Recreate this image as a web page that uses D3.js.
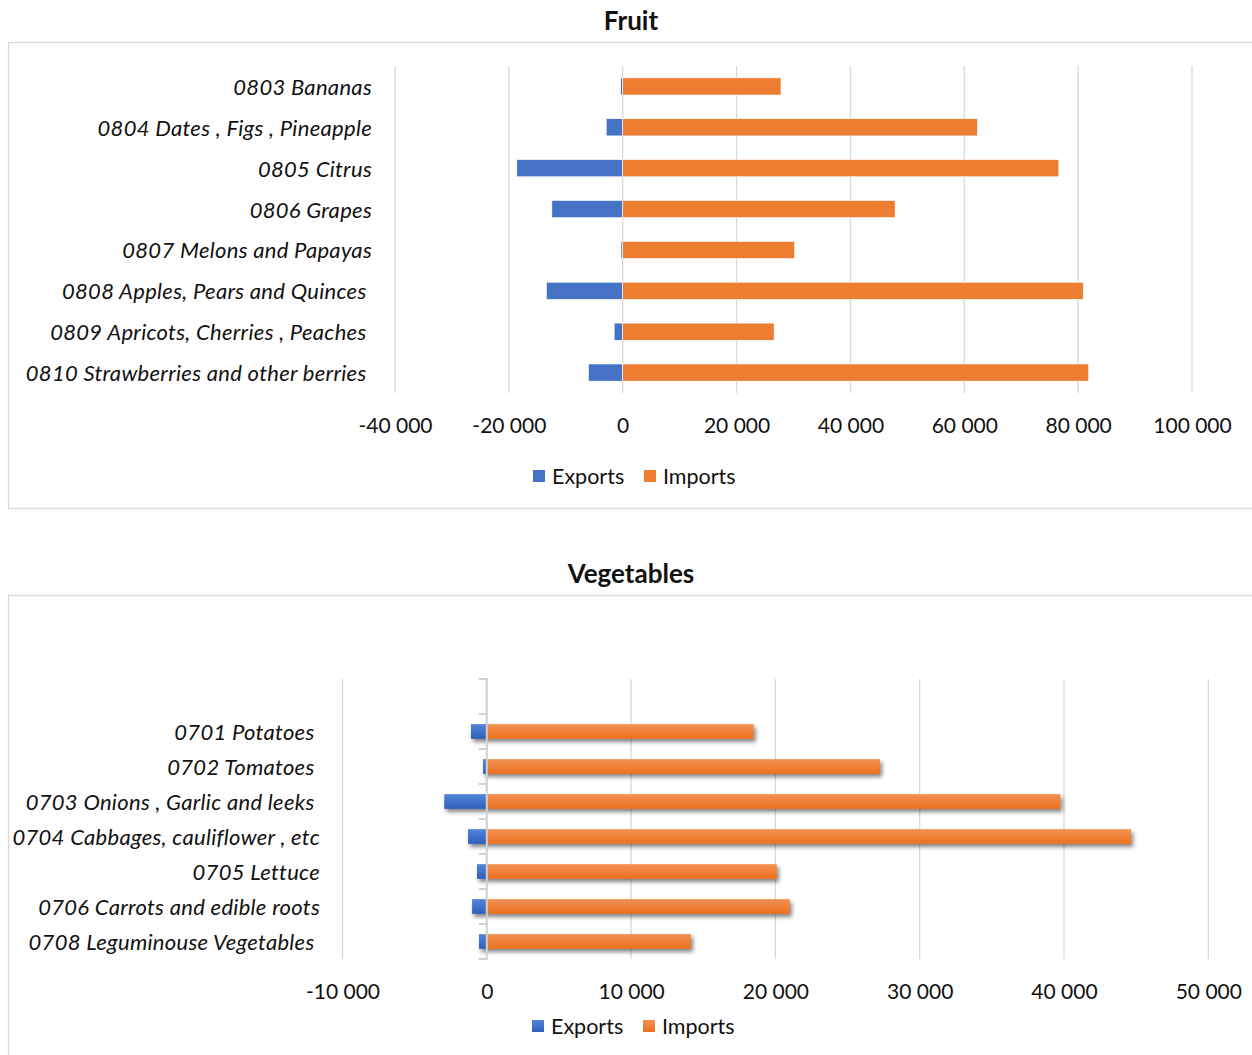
<!DOCTYPE html>
<html>
<head>
<meta charset="utf-8">
<script src="https://cdn.jsdelivr.net/npm/d3@7"></script>
<style>
  html, body { margin: 0; padding: 0; background: #fff; }
  svg { display: block; font-family: Lato, "Open Sans", sans-serif; }
  text { white-space: pre; }
</style>
</head>
<body>
<svg id="chart" width="1252" height="1055"></svg>
<script>
// Fruit trade, tonnes
const fruitCategories = [
  "0803 Bananas",
  "0804 Dates , Figs , Pineapple",
  "0805 Citrus",
  "0806 Grapes",
  "0807 Melons and Papayas",
  "0808 Apples, Pears and Quinces ",
  "0809 Apricots, Cherries , Peaches ",
  "0810 Strawberries and other berries "
];
const fruitExports = [-350, -2900, -18600, -12450, -300, -13400, -1500, -6000];
const fruitImports = [27800, 62300, 76600, 47850, 30200, 80900, 26600, 81850];
const fruitTicks = [-40000, -20000, 0, 20000, 40000, 60000, 80000, 100000];

// Vegetable trade, tonnes (top slot of the category axis is left empty)
const vegCategories = [
  "",
  "0701 Potatoes ",
  "0702 Tomatoes ",
  "0703 Onions , Garlic and leeks ",
  "0704 Cabbages, cauliflower , etc",
  "0705 Lettuce",
  "0706 Carrots and edible roots",
  "0708 Leguminouse Vegetables "
];
const vegExports = [null, -1100, -260, -2950, -1300, -680, -1020, -540];
const vegImports = [null, 18500, 27250, 39750, 44650, 20100, 21000, 14150];
const vegTicks = [-10000, 0, 10000, 20000, 30000, 40000, 50000];

const seriesNames = ["Exports", "Imports"];
const BLUE = "#4472C4", ORANGE = "#ED7D31";

const svg = d3.select("#chart");
const fmt = v => d3.format(",")(v).replace(/,/g, " ").replace("−", "-");

// gradients and shadow for the vegetable chart
const defs = svg.append("defs");
function grad(id, top, bottom) {
  const g = defs.append("linearGradient").attr("id", id)
    .attr("x1", 0).attr("y1", 0).attr("x2", 0).attr("y2", 1);
  g.append("stop").attr("offset", "0%").attr("stop-color", top);
  g.append("stop").attr("offset", "100%").attr("stop-color", bottom);
}
grad("gBlue", "#5585D6", "#2F5FBD");
grad("gOrange", "#F39255", "#EC6F1C");
const f = defs.append("filter").attr("id", "shadow")
  .attr("x", "-5%").attr("y", "-50%").attr("width", "115%").attr("height", "220%");
f.append("feGaussianBlur").attr("in", "SourceAlpha").attr("stdDeviation", 2).attr("result", "b");
f.append("feOffset").attr("in", "b").attr("dx", 2).attr("dy", 3).attr("result", "o");
f.append("feComponentTransfer").attr("in", "o").attr("result", "s")
  .append("feFuncA").attr("type", "linear").attr("slope", 0.5);
const fm = f.append("feMerge");
fm.append("feMergeNode").attr("in", "s");
fm.append("feMergeNode").attr("in", "SourceGraphic");

function drawChart(cfg) {
  const g = svg.append("g");

  // outer frame
  g.append("rect")
    .attr("x", cfg.frame[0] + 0.5).attr("y", cfg.frame[1] + 0.5)
    .attr("width", cfg.frame[2]).attr("height", cfg.frame[3])
    .attr("fill", "none").attr("stroke", "#d9d9d9").attr("stroke-width", 1.3);

  g.append("text")
    .attr("x", 631).attr("y", cfg.titleY)
    .attr("text-anchor", "middle").attr("dominant-baseline", "central")
    .attr("font-size", 26).attr("font-weight", 700).attr("fill", "#111")
    .text(cfg.title);

  const x = d3.scaleLinear().domain(cfg.domain).range(cfg.xRange);
  const y = d3.scaleBand().domain(cfg.categories).range(cfg.yRange)
    .paddingInner(0.58).paddingOuter(0.29);

  // vertical gridlines
  g.append("g").selectAll("line").data(cfg.ticks.filter(t => !(cfg.axisLine && t === 0)))
    .join("line")
    .attr("x1", d => x(d)).attr("x2", d => x(d))
    .attr("y1", cfg.yRange[0]).attr("y2", cfg.yRange[1])
    .attr("stroke", "#d9d9d9").attr("stroke-width", 1.3);

  // tick labels
  const xAxis = d3.axisBottom(x).tickValues(cfg.ticks).tickFormat(fmt).tickSize(0).tickPadding(0);
  const ax = g.append("g").attr("transform", `translate(0,${cfg.tickLabelY})`).call(xAxis);
  ax.select(".domain").remove();
  ax.selectAll("text").attr("font-size", 21).attr("fill", "#111")
    .attr("font-family", "Lato, sans-serif").attr("dy", "0.35em").attr("y", 0);

  const rows = cfg.categories.map((c, i) => ({ c, e: cfg.exports[i], m: cfg.imports[i] }))
    .filter(d => d.e !== null);

  const bars = g.append("g");
  if (cfg.shadow) bars.attr("filter", "url(#shadow)");
  bars.selectAll("rect.exp").data(rows).join("rect").attr("class", "exp")
    .attr("x", d => x(Math.min(0, d.e))).attr("width", d => Math.abs(x(d.e) - x(0)))
    .attr("y", d => y(d.c)).attr("height", y.bandwidth())
    .attr("fill", cfg.shadow ? "url(#gBlue)" : BLUE)
    .attr("stroke", cfg.shadow ? "none" : "#fff").attr("stroke-width", 0.6);
  bars.selectAll("rect.imp").data(rows).join("rect").attr("class", "imp")
    .attr("x", x(0)).attr("width", d => x(d.m) - x(0))
    .attr("y", d => y(d.c)).attr("height", y.bandwidth())
    .attr("fill", cfg.shadow ? "url(#gOrange)" : ORANGE)
    .attr("stroke", cfg.shadow ? "none" : "#fff").attr("stroke-width", 0.6);

  // category axis line with outward ticks
  if (cfg.axisLine) {
    const yAxis = d3.axisLeft(y).tickSize(8).tickFormat("");
    const ya = g.append("g").attr("transform", `translate(${x(0)},0)`).call(yAxis);
    ya.select(".domain").attr("stroke", "#d0d0d0").attr("stroke-width", 2)
      .attr("d", `M-8,${cfg.yRange[0]}H0V${cfg.yRange[1]}H-8`);
    ya.selectAll(".tick").remove();
    const edges = d3.range(cfg.categories.length + 1).map(i => cfg.yRange[0] + i * y.step());
    ya.selectAll("line.edge").data(edges).join("line").attr("class", "edge")
      .attr("x1", -8).attr("x2", 0).attr("y1", d => d).attr("y2", d => d)
      .attr("stroke", "#d0d0d0").attr("stroke-width", 2);
  }

  // category labels
  g.append("g").selectAll("text").data(cfg.categories.filter(c => c !== "")).join("text")
    .attr("x", cfg.labelX).attr("y", d => y(d) + y.bandwidth() / 2)
    .attr("text-anchor", "end").attr("dominant-baseline", "central")
    .attr("font-size", 22).attr("letter-spacing", 0.3)
    .attr("font-style", "italic").attr("fill", "#111")
    .text(d => d);

  // legend
  const lg = g.append("g").attr("transform", `translate(${cfg.legend[0]},${cfg.legend[1]})`);
  const items = [
    { name: seriesNames[0], color: cfg.shadow ? "url(#gBlue)" : BLUE, dx: 0 },
    { name: seriesNames[1], color: cfg.shadow ? "url(#gOrange)" : ORANGE, dx: 111 }
  ];
  items.forEach(it => {
    lg.append("rect").attr("x", it.dx).attr("y", -6).attr("width", 12).attr("height", 12)
      .attr("fill", it.color);
    lg.append("text").attr("x", it.dx + 19).attr("y", 0)
      .attr("dominant-baseline", "central").attr("font-size", 21.5).attr("fill", "#111")
      .text(it.name);
  });
}

drawChart({
  title: "Fruit", titleY: 20,
  frame: [8, 42, 1250, 466],
  categories: fruitCategories, exports: fruitExports, imports: fruitImports,
  ticks: fruitTicks, domain: [-40000, 100000], xRange: [395, 1192],
  yRange: [66, 393], tickLabelY: 426, labelX: 372,
  legend: [533, 476], shadow: false, axisLine: false
});

drawChart({
  title: "Vegetables", titleY: 573,
  frame: [8, 595, 1250, 470],
  categories: vegCategories, exports: vegExports, imports: vegImports,
  ticks: vegTicks, domain: [-10000, 50000], xRange: [342.5, 1208.3],
  yRange: [679, 959], tickLabelY: 992, labelX: 320,
  legend: [532, 1026], shadow: true, axisLine: true
});
</script>
</body>
</html>
